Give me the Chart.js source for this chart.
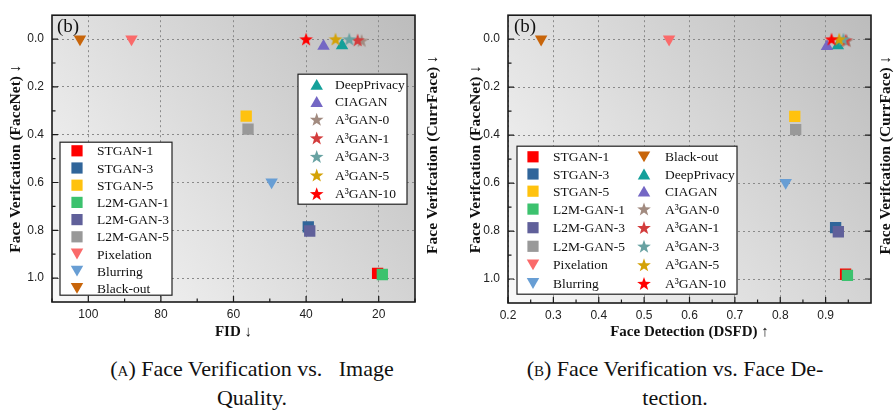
<!DOCTYPE html>
<html lang="en">
<head>
<meta charset="UTF-8">
<title>Face Verification vs. Image Quality / Face Detection</title>
<script src="https://cdn.jsdelivr.net/npm/chart.js"></script>
<style>
  body {
    margin: 0;
    width: 895px;
    height: 412px;
    overflow: hidden;
    position: relative;
    background: #fff;
  }
  .panel {
    position: absolute;
    top: 0;
    height: 340px;
  }
  #panelA { left: 0; width: 447px; }
  #panelB { left: 447px; width: 448px; }
  .caption {
    position: absolute;
    top: 354px;
    text-align: center;
    font-family: "Liberation Serif", "DejaVu Serif", serif;
    font-size: 22px;
    line-height: 29px;
    color: #111;
  }
  .sc { font-variant: small-caps; }
</style>
</head>
<body>
  <div class="panel" id="panelA"><canvas id="chartA"></canvas></div>
  <div class="panel" id="panelB"><canvas id="chartB"></canvas></div>

  <div class="caption" style="left:0; width:504px;">
    <div><span class="sc">(a)</span> Face Verification vs.&nbsp;&nbsp; Image</div>
    <div>Quality.</div>
  </div>
  <div class="caption" style="left:455px; width:440px;">
    <div><span class="sc">(b)</span> Face Verification vs. Face De-</div>
    <div>tection.</div>
  </div>

  <script>
    // methods, in legend / drawing order
    const methods = ['STGAN-1', 'STGAN-3', 'STGAN-5', 'L2M-GAN-1', 'L2M-GAN-3', 'L2M-GAN-5',
      'Pixelation', 'Blurring', 'Black-out', 'DeepPrivacy', 'CIAGAN',
      'A³GAN-0', 'A³GAN-1', 'A³GAN-3', 'A³GAN-5', 'A³GAN-10'];
    const fid = [20.3, 39.4, 56.5, 19.0, 39.0, 56.0, 88.1, 49.5, 102.3, 30.1, 35.2, 24.7, 25.8, 28.1, 31.9, 40.0];
    const dsfd = [0.944, 0.922, 0.832, 0.948, 0.928, 0.834, 0.555, 0.812, 0.273, 0.927, 0.903, 0.947, 0.944, 0.939, 0.930, 0.913];
    const faceNet = [0.98, 0.786, 0.322, 0.985, 0.803, 0.377, 0.0, 0.598, 0.0, 0.027, 0.03, 0.006, 0.004, 0.0, 0.0, 0.0];

    const markerShape = ['square', 'square', 'square', 'square', 'square', 'square',
      'down', 'down', 'down', 'up', 'up', 'star', 'star', 'star', 'star', 'star'];
    const markerColor = ['#ff0000', '#30659a', '#ffc20e', '#3cc26e', '#60609a', '#999999',
      '#fa6a6a', '#689ed4', '#c8650a', '#14a09a', '#7467c4',
      '#a28b80', '#d33d3d', '#68a2a2', '#d4a207', '#ff0000'];

    const fidTicks = [20, 40, 60, 80, 100];
    const fidMinor = [10, 30, 50, 70, 90, 110];
    const dsfdTicks = [0.2, 0.3, 0.4, 0.5, 0.6, 0.7, 0.8, 0.9];
    const dsfdMinor = [0.25, 0.35, 0.45, 0.55, 0.65, 0.75, 0.85, 0.95];
    const verTicks = [0.0, 0.2, 0.4, 0.6, 0.8, 1.0];
    const verMinor = [0.1, 0.3, 0.5, 0.7, 0.9];

    const serif = '"Liberation Serif", "Times New Roman", serif';
    const sans = '"Liberation Sans", Arial, sans-serif';

    function starPath(ctx, x, y, R) {
      ctx.beginPath();
      for (let i = 0; i < 10; i++) {
        const a = -Math.PI / 2 + i * Math.PI / 5;
        const rr = i % 2 ? R * 0.4 : R;
        ctx.lineTo(x + rr * Math.cos(a), y + rr * Math.sin(a));
      }
      ctx.closePath();
    }

    function starImage(color) {
      const c = document.createElement('canvas');
      c.width = 16; c.height = 16;
      const g = c.getContext('2d');
      g.fillStyle = color;
      starPath(g, 8, 8.6, 7.2);
      g.fill();
      return c;
    }

    // same shapes as Chart.js rect / triangle, used for the legends
    function drawMarker(ctx, shape, color, x, y) {
      ctx.fillStyle = color;
      if (shape === 'square') {
        ctx.fillRect(x - 5.6, y - 5.6, 11.2, 11.2);
      } else if (shape === 'star') {
        starPath(ctx, x, y + 0.6, 7.2);
        ctx.fill();
      } else {
        const r = 7.2, s = shape === 'up' ? 1 : -1;
        const cy = y + s * r / 4;
        ctx.beginPath();
        ctx.moveTo(x, cy - s * r);
        ctx.lineTo(x + r * Math.sin(Math.PI / 3), cy + s * r / 2);
        ctx.lineTo(x - r * Math.sin(Math.PI / 3), cy + s * r / 2);
        ctx.closePath();
        ctx.fill();
      }
    }

    function makeDatasets(xs) {
      return methods.map((name, i) => {
        const shape = markerShape[i];
        return {
          label: name,
          data: [{ x: xs[i], y: faceNet[i] }],
          pointStyle: shape === 'square' ? 'rect' : shape === 'star' ? starImage(markerColor[i]) : 'triangle',
          pointRotation: shape === 'down' ? 180 : 0,
          pointRadius: shape === 'square' ? 8 : 7.2,
          pointBackgroundColor: markerColor[i],
          pointBorderWidth: 0,
          order: methods.length - i
        };
      });
    }

    function framePlugin(cfg) {
      return {
        id: 'frame' + cfg.id,
        beforeDraw(chart) {
          const { ctx, chartArea: a } = chart;
          const g = ctx.createLinearGradient(a.left, a.bottom, a.right, a.top);
          g.addColorStop(0, '#f9f9f9');
          g.addColorStop(1, '#bcbcbc');
          ctx.save();
          ctx.fillStyle = g;
          ctx.fillRect(a.left, a.top, a.right - a.left, a.bottom - a.top);
          ctx.restore();
        },
        afterDraw(chart) {
          const { ctx, chartArea: a, scales } = chart;
          ctx.save();
          ctx.strokeStyle = '#1a1a1a';
          ctx.lineWidth = 1.2;
          ctx.beginPath();
          const tick = (vals, len, side) => {
            vals.forEach(v => {
              if (side === 'bottom') {
                const px = scales.x.getPixelForValue(v);
                ctx.moveTo(px, a.bottom); ctx.lineTo(px, a.bottom - len);
              } else {
                const py = scales.y.getPixelForValue(v);
                const x0 = side === 'left' ? a.left : a.right;
                const d = side === 'left' ? len : -len;
                ctx.moveTo(x0, py); ctx.lineTo(x0 + d, py);
              }
            });
          };
          tick(cfg.xTicks, 6, 'bottom');
          tick(cfg.xMinor, 3.5, 'bottom');
          tick(verTicks, 6, 'left');
          tick(verMinor, 3.5, 'left');
          if (cfg.rightTicks) tick(verTicks, 6, 'right');
          ctx.stroke();
          ctx.lineWidth = 1.6;
          ctx.strokeRect(a.left, a.top, a.right - a.left, a.bottom - a.top);

          // right-hand title, read bottom to top like the left one
          ctx.fillStyle = '#111';
          ctx.font = 'bold 15.5px ' + serif;
          ctx.textAlign = 'center';
          ctx.textBaseline = 'middle';
          ctx.save();
          ctx.translate(a.right + cfg.rightTitleDx, (a.top + a.bottom) / 2 - 4);
          ctx.rotate(-Math.PI / 2);
          ctx.fillText('Face Verifcation (CurrFace) ↓', 0, 0);
          ctx.restore();

          // (b) panel tag
          ctx.font = '19px ' + serif;
          ctx.textAlign = 'left';
          ctx.fillText('(b)', a.left + cfg.tagDx, a.top + 12);

          // legends
          cfg.legends.forEach(lg => {
            const x0 = a.left + lg.dx, y0 = a.top + lg.dy;
            const rows = Math.max(...lg.cols.map(c => c.items.length));
            const heights = [];
            for (let r = 0; r < rows; r++) {
              const sup = lg.cols.some(c => c.items[r] !== undefined && methods[c.items[r]].includes('³'));
              heights.push(sup ? 18.6 : 17.2);
            }
            ctx.fillStyle = '#fff';
            ctx.fillRect(x0, y0, lg.w, lg.h);
            ctx.strokeStyle = '#222';
            ctx.lineWidth = 1.2;
            ctx.strokeRect(x0, y0, lg.w, lg.h);
            ctx.font = '13.5px ' + serif;
            lg.cols.forEach(col => {
              let y = y0 + lg.pad;
              col.items.forEach((idx, r) => {
                const cy = y + heights[r] / 2;
                drawMarker(ctx, markerShape[idx], markerColor[idx], x0 + col.mx, cy);
                ctx.fillStyle = '#111';
                ctx.fillText(methods[idx], x0 + col.tx, cy + 1);
                y += heights[r];
              });
            });
          });
          ctx.restore();
        }
      };
    }

    function makeChart(canvasId, xs, cfg) {
      return new Chart(document.getElementById(canvasId), {
        type: 'scatter',
        data: { datasets: makeDatasets(xs) },
        options: {
          responsive: true,
          maintainAspectRatio: false,
          animation: false,
          events: [],
          layout: { padding: { top: cfg.top, left: 0, right: cfg.right, bottom: 0 } },
          plugins: { legend: { display: false }, tooltip: { enabled: false } },
          scales: {
            x: {
              type: 'linear',
              min: cfg.xMin, max: cfg.xMax, reverse: cfg.xReverse,
              afterBuildTicks: s => { s.ticks = cfg.xTicks.map(v => ({ value: v })); },
              afterFit: s => { s.height = cfg.xAxisH; },
              ticks: {
                autoSkip: false, maxRotation: 0, padding: 5,
                color: '#222', font: { family: sans, size: 12 },
                callback: cfg.xFmt
              },
              grid: { color: '#8a8a8a', lineWidth: 1, drawTicks: false },
              border: { display: false, dash: [2, 3] },
              title: {
                display: true, text: cfg.xTitle, color: '#111',
                font: { family: serif, size: 15, weight: 'bold', lineHeight: 1 },
                padding: { top: 0, bottom: 0 }
              }
            },
            y: {
              type: 'linear', position: 'left',
              min: -0.1, max: 1.1, reverse: true,
              afterBuildTicks: s => { s.ticks = verTicks.map(v => ({ value: v })); },
              afterFit: s => { s.width = cfg.yAxisW; },
              ticks: {
                padding: 8, color: '#222', font: { family: sans, size: 12 },
                callback: v => v.toFixed(1)
              },
              grid: { color: '#8a8a8a', lineWidth: 1, drawTicks: false },
              border: { display: false, dash: [2, 3] },
              title: {
                display: true, text: 'Face Verifcation (FaceNet) ↓', color: '#111',
                font: { family: serif, size: 15.5, weight: 'bold', lineHeight: 1 },
                padding: { top: cfg.yTitlePad, bottom: 0 }
              }
            }
          }
        },
        plugins: [framePlugin(cfg)]
      });
    }

    makeChart('chartA', fid, {
      id: 'A', top: 10, right: 32, xAxisH: 38, yAxisW: 52,
      yTitlePad: 8.5, rightTitleDx: 18,
      xMin: 10, xMax: 110, xReverse: true,
      xTicks: fidTicks, xMinor: fidMinor, xFmt: v => String(v),
      xTitle: 'FID ↓', rightTicks: false, tagDx: 5,
      legends: [
        { dx: 8, dy: 127, w: 112, h: 153, pad: 0, cols: [{ mx: 17, tx: 37, items: [0, 1, 2, 3, 4, 5, 6, 7, 8] }] },
        { dx: 246, dy: 59, w: 109, h: 130, pad: 1.5, cols: [{ mx: 18.7, tx: 37, items: [9, 10, 11, 12, 13, 14, 15] }] }
      ]
    });

    makeChart('chartB', dsfd, {
      id: 'B', top: 12, right: 24, xAxisH: 37, yAxisW: 61,
      yTitlePad: 21.5, rightTitleDx: 14.5,
      xMin: 0.2, xMax: 1.0, xReverse: false,
      xTicks: dsfdTicks, xMinor: dsfdMinor, xFmt: v => v.toFixed(1),
      xTitle: 'Face Detection (DSFD) ↑', rightTicks: true, tagDx: 6,
      legends: [
        { dx: 9, dy: 131, w: 220, h: 148, pad: 2, cols: [
          { mx: 16, tx: 36, items: [0, 1, 2, 3, 4, 5, 6, 7] },
          { mx: 127, tx: 148, items: [8, 9, 10, 11, 12, 13, 14, 15] }
        ] }
      ]
    });
  </script>
</body>
</html>
